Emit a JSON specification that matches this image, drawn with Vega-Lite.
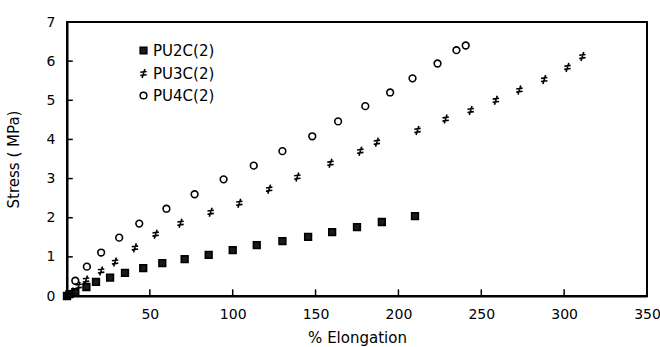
{
  "$schema": "https://vega.github.io/schema/vega-lite/v6.json",
  "width": 580,
  "height": 274,
  "autosize": "none",
  "padding": {"left": 67, "top": 22, "right": 13, "bottom": 51},
  "background": "white",
  "config": {
    "view": {"stroke": "black", "strokeWidth": 2},
    "font": "DejaVu Sans",
    "legend": {
      "title": null, "orient": "none", "legendX": 69, "legendY": 21,
      "labelFontSize": 15, "labelColor": "black", "rowPadding": 6, "symbolSize": 45,
      "symbolStrokeWidth": 1.5, "labelOffset": 2
    },
    "axisX": {
      "titleFontSize": 15, "titleFontWeight": "normal", "titleColor": "black", "titlePadding": 9,
      "labelFontSize": 14, "labelColor": "black", "labelPadding": 11,
      "labelOverlap": false, "labelFlush": false, "ticks": false,
      "domainColor": "black", "domainWidth": 2, "grid": false
    },
    "axisY": {
      "titleFontSize": 15, "titleFontWeight": "normal", "titleColor": "black", "titlePadding": 25,
      "labelFontSize": 14, "labelColor": "black", "labelPadding": 12,
      "labelOverlap": false, "labelFlush": false, "ticks": false,
      "domainColor": "black", "domainWidth": 2, "grid": false
    }
  },
  "datasets": {
    "xticks": [{"v": 50}, {"v": 100}, {"v": 150}, {"v": 200}, {"v": 250}, {"v": 300}],
    "yticks": [{"v": 1}, {"v": 2}, {"v": 3}, {"v": 4}, {"v": 5}, {"v": 6}]
  },
  "layer": [
    {
      "data": {
        "values": [
          {"series": "PU2C(2)", "x": 0, "y": 0},
          {"series": "PU2C(2)", "x": 1.5, "y": 0.05},
          {"series": "PU2C(2)", "x": 5, "y": 0.1},
          {"series": "PU2C(2)", "x": 11.7, "y": 0.23},
          {"series": "PU2C(2)", "x": 17.5, "y": 0.36},
          {"series": "PU2C(2)", "x": 26, "y": 0.47},
          {"series": "PU2C(2)", "x": 35, "y": 0.59},
          {"series": "PU2C(2)", "x": 46, "y": 0.71},
          {"series": "PU2C(2)", "x": 57.5, "y": 0.84},
          {"series": "PU2C(2)", "x": 71, "y": 0.94},
          {"series": "PU2C(2)", "x": 85.5, "y": 1.05},
          {"series": "PU2C(2)", "x": 100, "y": 1.17},
          {"series": "PU2C(2)", "x": 114.5, "y": 1.3},
          {"series": "PU2C(2)", "x": 130, "y": 1.4},
          {"series": "PU2C(2)", "x": 145.5, "y": 1.51},
          {"series": "PU2C(2)", "x": 160, "y": 1.63},
          {"series": "PU2C(2)", "x": 175, "y": 1.76},
          {"series": "PU2C(2)", "x": 190, "y": 1.89},
          {"series": "PU2C(2)", "x": 210, "y": 2.04},
          {"series": "PU3C(2)", "x": 0.5, "y": 0.02},
          {"series": "PU3C(2)", "x": 3, "y": 0.1},
          {"series": "PU3C(2)", "x": 7, "y": 0.25},
          {"series": "PU3C(2)", "x": 11.5, "y": 0.41},
          {"series": "PU3C(2)", "x": 20.6, "y": 0.64},
          {"series": "PU3C(2)", "x": 29, "y": 0.87},
          {"series": "PU3C(2)", "x": 41, "y": 1.23},
          {"series": "PU3C(2)", "x": 53.5, "y": 1.58},
          {"series": "PU3C(2)", "x": 68.5, "y": 1.86},
          {"series": "PU3C(2)", "x": 86.7, "y": 2.14},
          {"series": "PU3C(2)", "x": 104, "y": 2.37},
          {"series": "PU3C(2)", "x": 122, "y": 2.73},
          {"series": "PU3C(2)", "x": 139, "y": 3.04},
          {"series": "PU3C(2)", "x": 159, "y": 3.39},
          {"series": "PU3C(2)", "x": 177, "y": 3.7},
          {"series": "PU3C(2)", "x": 187, "y": 3.93},
          {"series": "PU3C(2)", "x": 211.5, "y": 4.23},
          {"series": "PU3C(2)", "x": 228.5, "y": 4.52},
          {"series": "PU3C(2)", "x": 243.6, "y": 4.74},
          {"series": "PU3C(2)", "x": 258.8, "y": 5.0},
          {"series": "PU3C(2)", "x": 273, "y": 5.26},
          {"series": "PU3C(2)", "x": 288, "y": 5.53},
          {"series": "PU3C(2)", "x": 302, "y": 5.84},
          {"series": "PU3C(2)", "x": 311, "y": 6.12},
          {"series": "PU4C(2)", "x": 5, "y": 0.39},
          {"series": "PU4C(2)", "x": 12, "y": 0.75},
          {"series": "PU4C(2)", "x": 20.6, "y": 1.11},
          {"series": "PU4C(2)", "x": 31.5, "y": 1.49},
          {"series": "PU4C(2)", "x": 43.6, "y": 1.85},
          {"series": "PU4C(2)", "x": 60, "y": 2.23},
          {"series": "PU4C(2)", "x": 77, "y": 2.6},
          {"series": "PU4C(2)", "x": 94.5, "y": 2.98},
          {"series": "PU4C(2)", "x": 112.7, "y": 3.33},
          {"series": "PU4C(2)", "x": 130, "y": 3.7},
          {"series": "PU4C(2)", "x": 148, "y": 4.08},
          {"series": "PU4C(2)", "x": 163.6, "y": 4.46},
          {"series": "PU4C(2)", "x": 180, "y": 4.85},
          {"series": "PU4C(2)", "x": 195, "y": 5.2},
          {"series": "PU4C(2)", "x": 208.5, "y": 5.56},
          {"series": "PU4C(2)", "x": 223.6, "y": 5.94},
          {"series": "PU4C(2)", "x": 235, "y": 6.28},
          {"series": "PU4C(2)", "x": 240.6, "y": 6.4}
        ]
      },
      "mark": {"type": "point", "strokeWidth": 1.6, "opacity": 1, "size": 45, "filled": false},
      "encoding": {
        "x": {
          "field": "x", "type": "quantitative",
          "scale": {"domain": [0, 350], "nice": false, "zero": true},
          "axis": {"values": [50, 100, 150, 200, 250, 300, 350], "title": "% Elongation"}
        },
        "y": {
          "field": "y", "type": "quantitative",
          "scale": {"domain": [0, 7], "nice": false},
          "axis": {"values": [0, 1, 2, 3, 4, 5, 6, 7], "title": "Stress ( MPa)"}
        },
        "shape": {
          "field": "series", "type": "nominal",
          "scale": {"domain": ["PU2C(2)", "PU3C(2)", "PU4C(2)"], "range": ["square", "M-0.4,1.35L0.4,-1.35M-0.95,-0.35L0.95,-0.6M-0.95,0.6L0.95,0.35", "circle"]}
        },
        "fill": {
          "field": "series", "type": "nominal",
          "scale": {"domain": ["PU2C(2)", "PU3C(2)", "PU4C(2)"], "range": ["#1a1a1a", "#1a1a1a", "white"]}
        },
        "stroke": {
          "field": "series", "type": "nominal",
          "scale": {"domain": ["PU2C(2)", "PU3C(2)", "PU4C(2)"], "range": ["black", "black", "black"]}
        }
      }
    },
    {
      "data": {"name": "xticks"},
      "mark": {"type": "rule", "color": "black", "strokeWidth": 1.5},
      "encoding": {
        "x": {"field": "v", "type": "quantitative", "axis": {"values": [50, 100, 150, 200, 250, 300, 350], "title": "% Elongation"}},
        "y": {"datum": 0, "type": "quantitative", "axis": {"values": [0, 1, 2, 3, 4, 5, 6, 7], "title": "Stress ( MPa)"}},
        "y2": {"datum": 0.17}
      }
    },
    {
      "data": {"name": "yticks"},
      "mark": {"type": "rule", "color": "black", "strokeWidth": 1.5},
      "encoding": {
        "y": {"field": "v", "type": "quantitative", "axis": {"values": [0, 1, 2, 3, 4, 5, 6, 7], "title": "Stress ( MPa)"}},
        "x": {"datum": 0, "type": "quantitative", "axis": {"values": [50, 100, 150, 200, 250, 300, 350], "title": "% Elongation"}},
        "x2": {"datum": 3.5}
      }
    }
  ]
}
